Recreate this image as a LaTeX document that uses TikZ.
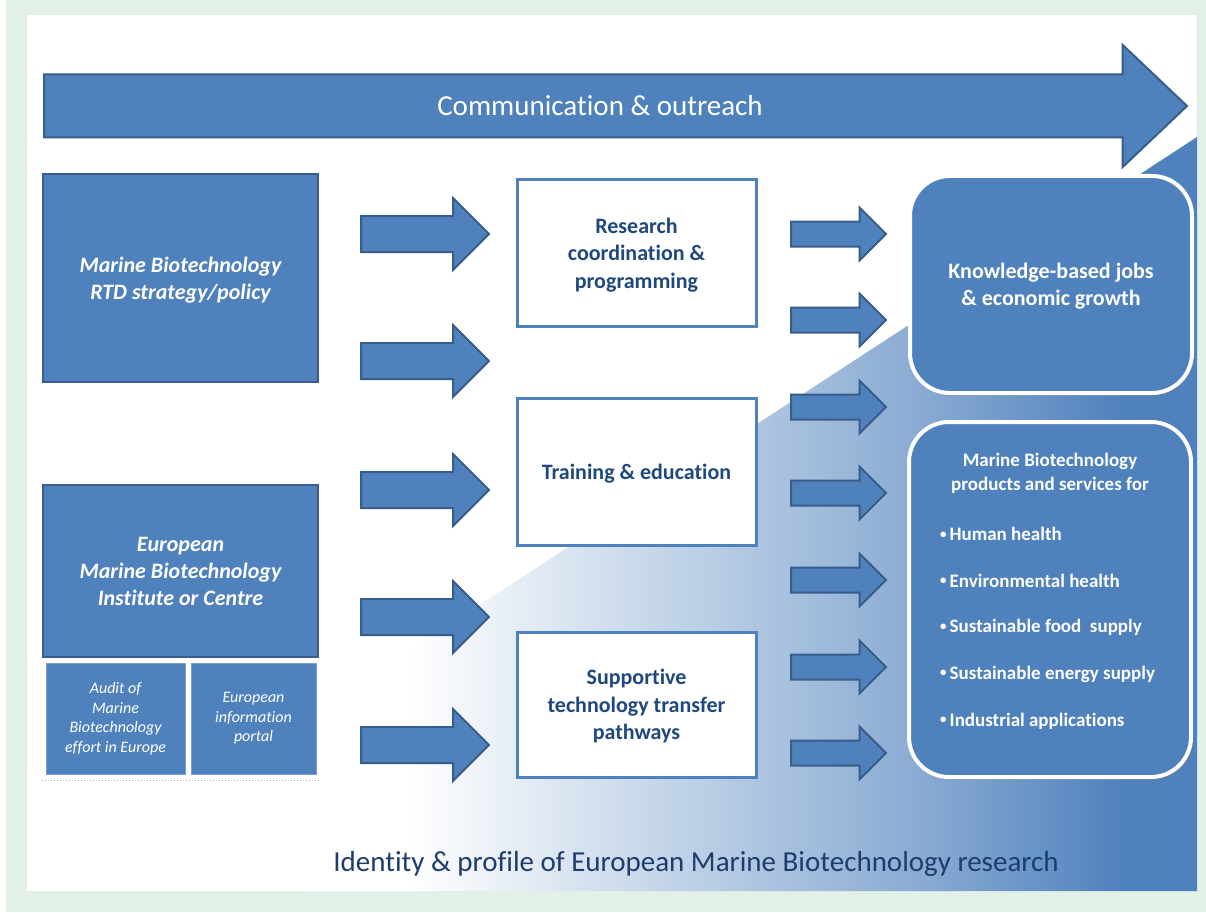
\documentclass[tikz,border=0pt]{standalone}
\usepackage{fontspec}
\setmainfont{Carlito}[Ligatures=NoCommon]
\usetikzlibrary{shapes.arrows,positioning,shadows}
\definecolor{mblue}{HTML}{4F81BD}
\definecolor{mborder}{HTML}{385D8A}
\definecolor{navy}{HTML}{1F497D}
\definecolor{deepnavy}{HTML}{1E3C6C}
\definecolor{framegreen}{HTML}{E2F0E8}
\colorlet{fadeA}{mblue!33!white}
\colorlet{fadeB}{mblue!68!white}
\pgfdeclarehorizontalshading{seafade}{100bp}{color(0bp)=(white); color(25bp)=(white); color(31bp)=(white); color(45bp)=(fadeA); color(60bp)=(fadeB); color(71bp)=(mblue); color(100bp)=(mblue)}

\begin{document}
\begin{tikzpicture}[x=1pt, y=-1pt,
    bluebox/.style={rectangle, draw=mborder, line width=2.5pt, fill=mblue, text=white, align=center, inner sep=0pt, outer sep=0pt, text depth=0pt, font=\bfseries\itshape\fontsize{22}{27}\selectfont},
    subbox/.style={rectangle, draw=mblue!75!white, line width=1pt, fill=mblue, text=white, align=center, inner sep=0pt, outer sep=0pt, minimum height=111pt, font=\itshape\fontsize{16}{19.5}\selectfont},
    whitebox/.style={rectangle, draw=mblue, line width=3pt, fill=white, text=navy, align=center, inner sep=0pt, outer sep=0pt, text depth=0pt, minimum width=239pt, minimum height=146pt, font=\bfseries\fontsize{22}{27.5}\selectfont},
    roundbox/.style={rectangle, rounded corners=40pt, draw=white, line width=4pt, fill=mblue, text=white, align=center, inner sep=0pt, outer sep=0pt, text depth=0pt, minimum width=282pt, drop shadow={opacity=0.4, shadow xshift=2pt, shadow yshift=-3pt}},
    flowarrow/.style={single arrow, draw=mborder, line width=2pt, fill=mblue, inner xsep=0pt, single arrow tip angle=90, anchor=tail},
    feedarrow/.style={flowarrow, minimum height=128pt, inner ysep=17pt, single arrow head extend=18pt},
    outarrow/.style={flowarrow, minimum height=95pt, inner ysep=11.5pt, single arrow head extend=14pt},
    bullettext/.style={text=white, anchor=west, inner sep=0pt, font=\bfseries\fontsize{19}{24}\selectfont}
]
    \useasboundingbox (0,0) rectangle (1206,912);
    % frame and fading background
    \fill[white] (0,0) rectangle (1206,912);
    \fill[framegreen] (6,0) rectangle (1206,912);
    \fill[white] (27,15) rectangle (1197,891);
    \shade[shading=seafade] (1197,137) -- (1197,891) -- (300,891) -- (300,722) -- cycle;

    % top arrow
    \node[flowarrow, minimum height=1143pt, inner ysep=30.5pt, single arrow head extend=29.5pt, single arrow tip angle=87] (outreach) at (43,106) {};
    \node[text=white, font=\fontsize{29}{34}\selectfont] (outreachlabel) at (600,106) {Communication \& outreach};

    % left column
    \node[bluebox, minimum width=275pt, minimum height=208pt] (policy) at (180.5,278) {Marine Biotechnology\\RTD strategy/policy};
    \node[bluebox, minimum width=275pt, minimum height=172pt] (institute) at (180.5,571) {European\\Marine Biotechnology\\Institute or Centre};
    \node[subbox, minimum width=139pt, below right=6pt and 3pt of institute.south west] (audit) {Audit of\\Marine\\Biotechnology\\effort in Europe};
    \node[subbox, minimum width=125pt, right=6pt of audit] (portal) {European\\information\\portal};
    \draw[dotted, gray!60, line width=1pt] ([xshift=-4pt, yshift=-6pt]audit.south west) -- ([xshift=4pt, yshift=-6pt]portal.south east);

    % middle column
    \node[whitebox] (research) at (636.5,253) {Research\\coordination \&\\programming};
    \node[whitebox, minimum height=147pt, below=72pt of research] (training) {Training \& education};
    \node[whitebox, minimum height=145pt, below=87pt of training] (transfer) {Supportive\\technology transfer\\pathways};

    % right column
    \node[roundbox, minimum height=217pt, font=\bfseries\fontsize{22}{27}\selectfont] (jobs) at (1051,284.5) {Knowledge-based jobs\\\& economic growth};
    \node[roundbox, minimum height=355pt] (products) at (1050,599.5) {};
    \node[text=white, align=center, font=\bfseries\fontsize{19}{24}\selectfont] (prodhead) at ([yshift=-51pt]products.north) {Marine Biotechnology\\products and services for};
    \foreach \entry [count=\i] in {Human health, Environmental health, Sustainable food~~supply, Sustainable energy supply, Industrial applications}
        \node[bullettext] (bullet\i) at ([xshift=31pt, yshift={-112pt-46.8pt*(\i-1)}]products.north west) {\raisebox{2.5pt}{\fontsize{13}{13}\selectfont\textbullet}\hspace{3pt}\entry};

    % block arrows
    \foreach \y in {234,361,490,617,745}
        \node[feedarrow] (feed\y) at (360,\y) {};
    \foreach \y in {234,320,407,493,580,667,753}
        \node[outarrow] (out\y) at (790,\y) {};

    % bottom caption
    \node[text=deepnavy, font=\fontsize{29}{34}\selectfont] (identity) at (696,864) {Identity \& profile of European Marine Biotechnology research};
\end{tikzpicture}
\end{document}
